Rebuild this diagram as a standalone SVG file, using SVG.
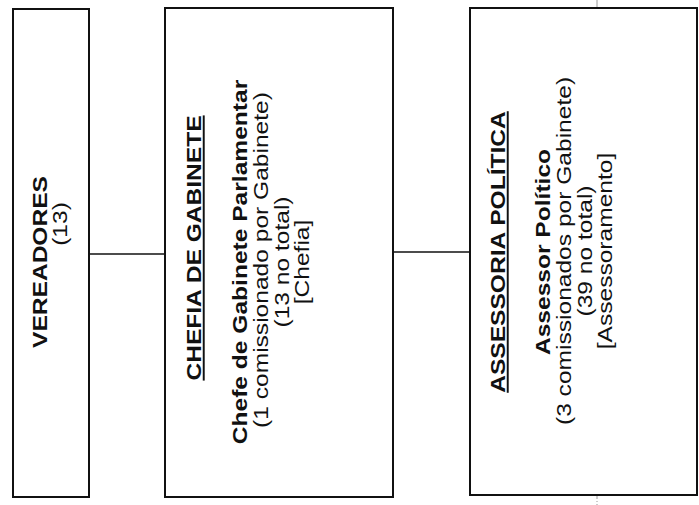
<svg xmlns="http://www.w3.org/2000/svg" width="699" height="505" viewBox="0 0 699 505">
<style>
.box{fill:#fff;stroke:#111;stroke-width:2}
.con{stroke:#111;stroke-width:1.3;fill:none}
text{font-family:"Liberation Sans",Arial,sans-serif;font-size:19.5px;fill:#111;text-anchor:middle}
.b{font-weight:bold}
.u{text-decoration:underline}
</style>
<rect width="699" height="505" fill="#fff"/>
<line x1="597" y1="0" x2="597" y2="505" stroke="#9a9a9a" stroke-width="1" stroke-dasharray="7 2 1 2"/>
<g id="connectors">
<line class="con" x1="89" y1="254" x2="165" y2="254"/>
<line class="con" x1="393" y1="252" x2="470" y2="252"/>
</g>
<g id="vereadores">
<rect class="box" x="13" y="9" width="76" height="488"/>
<text class="b" transform="translate(47,262) rotate(-90) scale(1.26,1)">VEREADORES</text>
<text transform="translate(67,224) rotate(-90) scale(1.26,1)">(13)</text>
</g>
<g id="chefia">
<rect class="box" x="165" y="8" width="228" height="489"/>
<text class="b u" transform="translate(201,248) rotate(-90) scale(1.26,1)">CHEFIA DE GABINETE</text>
<text class="b" transform="translate(247,262) rotate(-90) scale(1.26,1)">Chefe de Gabinete Parlamentar</text>
<text transform="translate(268,260) rotate(-90) scale(1.26,1)">(1 comissionado por Gabinete)</text>
<text transform="translate(289,262) rotate(-90) scale(1.26,1)">(13 no total)</text>
<text transform="translate(309,262) rotate(-90) scale(1.26,1)">[Chefia]</text>
</g>
<g id="assessoria">
<rect class="box" x="470" y="8" width="227" height="487"/>
<text class="b u" transform="translate(505,252) rotate(-90) scale(1.26,1)">ASSESSORIA POLÍTICA</text>
<text class="b" transform="translate(550,252) rotate(-90) scale(1.26,1)">Assessor Político</text>
<text transform="translate(571,251) rotate(-90) scale(1.26,1)">(3 comissionados por Gabinete)</text>
<text transform="translate(592,251) rotate(-90) scale(1.26,1)">(39 no total)</text>
<text transform="translate(612,251) rotate(-90) scale(1.26,1)">[Assessoramento]</text>
</g>
</svg>
